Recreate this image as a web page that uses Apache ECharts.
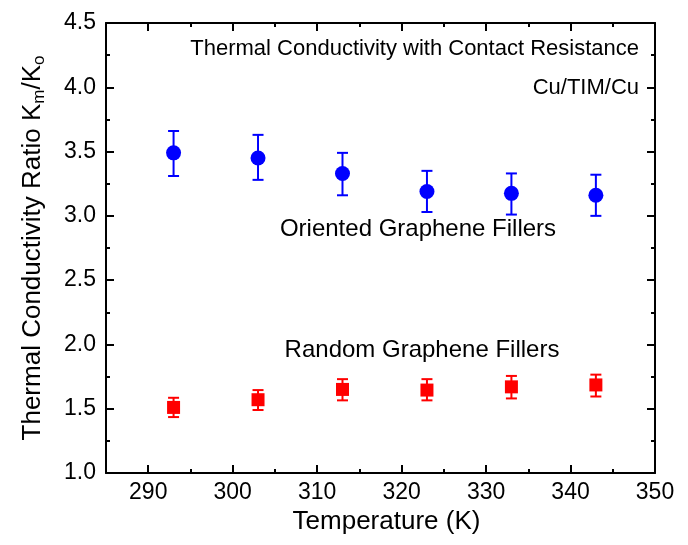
<!DOCTYPE html>
<html>
<head>
<meta charset="utf-8">
<title>Thermal Conductivity Ratio</title>
<script src="https://cdn.jsdelivr.net/npm/echarts@6.0.0/dist/echarts.min.js"></script>
<style>
  html, body { margin: 0; padding: 0; background: #fff; }
  #chart { width: 688px; height: 545px; }
</style>
</head>
<body>
<div id="chart"></div>
<script>
// values
const temperature = [293, 303, 313, 323, 333, 343]
const orientedRatio = [3.49, 3.45, 3.33, 3.19, 3.175, 3.16]
const orientedLow = [3.31, 3.28, 3.16, 3.03, 3.01, 3.0]
const orientedHigh = [3.66, 3.63, 3.49, 3.35, 3.33, 3.32]
const randomRatio = [1.51, 1.57, 1.65, 1.645, 1.67, 1.685]
const randomLow = [1.435, 1.49, 1.565, 1.565, 1.58, 1.595]
const randomHigh = [1.585, 1.645, 1.73, 1.73, 1.755, 1.765]
const xMajorTicks = [290, 300, 310, 320, 330, 340, 350]
const xMinorTicks = [295, 305, 315, 325, 335, 345]

const FONT = 'Liberation Sans'
const BLUE = '#0000ff'
const RED = '#ff0000'

const chart = echarts.init(document.getElementById('chart'), null, { renderer: 'canvas' })

function errorBars(color) {
  return function (params, api) {
    const x = api.value(0)
    const lo = api.coord([x, api.value(1)])
    const hi = api.coord([x, api.value(2)])
    const half = 5.5
    const style = { stroke: color, lineWidth: 2 }
    return {
      type: 'group',
      children: [
        { type: 'line', shape: { x1: hi[0], y1: hi[1], x2: lo[0], y2: lo[1] }, style },
        { type: 'line', shape: { x1: hi[0] - half, y1: hi[1], x2: hi[0] + half, y2: hi[1] }, style },
        { type: 'line', shape: { x1: lo[0] - half, y1: lo[1], x2: lo[0] + half, y2: lo[1] }, style }
      ]
    }
  }
}

const frameLine = { show: true, onZero: false, lineStyle: { color: '#000', width: 2 } }
const tickStyle = { color: '#000', width: 2 }

function xAxisPart(position, ticks, length, withLabels) {
  return {
    type: 'value',
    position,
    min: 285,
    max: 350,
    interval: 5,
    axisLine: length === 8 ? frameLine : { show: false },
    axisTick: { show: true, inside: true, length, lineStyle: tickStyle, customValues: ticks },
    axisLabel: withLabels
      ? { show: true, customValues: xMajorTicks, color: '#000', fontFamily: FONT, fontSize: 23, margin: 8 }
      : { show: false },
    splitLine: { show: false }
  }
}

const bottomAxis = xAxisPart('bottom', xMajorTicks, 8, true)
bottomAxis.name = 'Temperature (K)'
bottomAxis.nameLocation = 'middle'
bottomAxis.nameGap = 33
bottomAxis.nameTextStyle = { color: '#000', fontFamily: FONT, fontSize: 26, padding: [0, 0, 0, 12] }

function yAxisPart(position, withLabels) {
  return {
    type: 'value',
    position,
    min: 1.0,
    max: 4.5,
    interval: 0.5,
    axisLine: frameLine,
    axisTick: { show: true, inside: true, length: 8, lineStyle: tickStyle },
    minorTick: { show: true, splitNumber: 2, length: 4, lineStyle: tickStyle },
    axisLabel: withLabels
      ? { show: true, color: '#000', fontFamily: FONT, fontSize: 23, margin: 10, formatter: (v) => v.toFixed(1) }
      : { show: false },
    splitLine: { show: false }
  }
}

const leftAxis = yAxisPart('left', true)
leftAxis.name = 'Thermal Conductivity Ratio K{sub|m}/K{sub|o}'
leftAxis.nameLocation = 'middle'
leftAxis.nameRotate = 90
leftAxis.nameGap = 58
leftAxis.nameTextStyle = {
  color: '#000',
  fontFamily: FONT,
  fontSize: 26,
  lineHeight: 30,
  rich: {
    sub: { color: '#000', fontFamily: FONT, fontSize: 17, lineHeight: 4, verticalAlign: 'bottom' }
  }
}

const option = {
  animation: false,
  backgroundColor: '#fff',
  grid: { left: 106, right: 33, top: 23, bottom: 72 },
  xAxis: [
    bottomAxis,
    xAxisPart('bottom', xMinorTicks, 4, false),
    xAxisPart('top', xMajorTicks, 8, false),
    xAxisPart('top', xMinorTicks, 4, false)
  ],
  yAxis: [leftAxis, yAxisPart('right', false)],
  graphic: [
    {
      type: 'text', x: 639, y: 49,
      style: { text: 'Thermal Conductivity with Contact Resistance', fill: '#000', fontFamily: FONT, fontSize: 22, align: 'right', verticalAlign: 'middle' }
    },
    {
      type: 'text', x: 639, y: 88,
      style: { text: 'Cu/TIM/Cu', fill: '#000', fontFamily: FONT, fontSize: 22, align: 'right', verticalAlign: 'middle' }
    },
    {
      type: 'text', x: 418, y: 229,
      style: { text: 'Oriented Graphene Fillers', fill: '#000', fontFamily: FONT, fontSize: 24, align: 'center', verticalAlign: 'middle' }
    },
    {
      type: 'text', x: 422, y: 350,
      style: { text: 'Random Graphene Fillers', fill: '#000', fontFamily: FONT, fontSize: 24, align: 'center', verticalAlign: 'middle' }
    }
  ],
  series: [
    {
      name: 'Oriented error',
      type: 'custom',
      xAxisIndex: 0,
      yAxisIndex: 0,
      renderItem: errorBars(BLUE),
      encode: { x: 0, y: [1, 2] },
      data: temperature.map((t, i) => [t, orientedLow[i], orientedHigh[i]]),
      z: 2
    },
    {
      name: 'Random error',
      type: 'custom',
      xAxisIndex: 0,
      yAxisIndex: 0,
      renderItem: errorBars(RED),
      encode: { x: 0, y: [1, 2] },
      data: temperature.map((t, i) => [t, randomLow[i], randomHigh[i]]),
      z: 2
    },
    {
      name: 'Oriented Graphene Fillers',
      type: 'scatter',
      xAxisIndex: 0,
      yAxisIndex: 0,
      symbol: 'circle',
      symbolSize: 15,
      itemStyle: { color: BLUE, opacity: 1 },
      data: temperature.map((t, i) => [t, orientedRatio[i]]),
      z: 3
    },
    {
      name: 'Random Graphene Fillers',
      type: 'scatter',
      xAxisIndex: 0,
      yAxisIndex: 0,
      symbol: 'rect',
      symbolSize: 13,
      itemStyle: { color: RED, opacity: 1 },
      data: temperature.map((t, i) => [t, randomRatio[i]]),
      z: 3
    }
  ]
}

chart.setOption(option)
</script>
</body>
</html>
